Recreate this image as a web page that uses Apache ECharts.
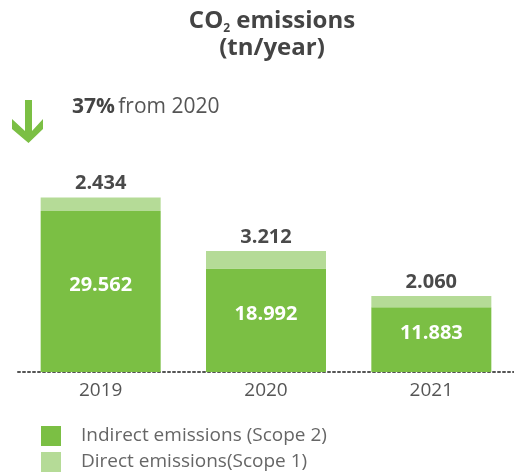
<!DOCTYPE html>
<html><head><meta charset="utf-8">
<script src="https://cdn.jsdelivr.net/npm/echarts@6/dist/echarts.min.js"></script>
<style>html,body{margin:0;padding:0;background:#fff}#c{width:514px;height:472px}</style>
</head><body><div id="c"></div>
<script>
const categories = ['2019', '2020', '2021'];
const indirect = [29562, 18992, 11883];
const direct = [2434, 3212, 2060];
const seriesNames = ['Indirect emissions (Scope 2)', 'Direct emissions(Scope 1)'];

const fmt = v => {
  const s = String(Math.round(v));
  return s.replace(/\B(?=(\d{3})+(?!\d))/g, '.');
};
const FONT = 'Open Sans';
const legendCommon = {
  orient: 'vertical', left: 41, padding: 0,
  itemWidth: 20, itemHeight: 20, icon: 'rect',
  textStyle: {fontSize: 19, lineHeight: 20, color: '#666', fontFamily: FONT, padding: [0, 0, 0, 15]}
};
const chart = echarts.init(document.getElementById('c'), null, {renderer: 'canvas'});
chart.setOption({
  animation: false,
  textStyle: {fontFamily: FONT},
  title: {
    text: '{a|CO}{s|2}{a| emissions}\n{a|(tn/year)}',
    left: 267, top: 3, textAlign: 'center',
    textStyle: {
      rich: {
        a: {fontSize: 24, fontWeight: 'bold', color: '#444', fontFamily: FONT, lineHeight: 27, align: 'center'},
        s: {fontSize: 12, fontWeight: 'bold', color: '#444', fontFamily: FONT, verticalAlign: 'bottom', padding: [12, 0, 0, 0], lineHeight: 27}
      }
    }
  },
  graphic: [
    {type: 'polygon', shape: {points: [[25,100],[32,100],[32,131],[43,119],[43,129],[28.5,143],[12,129],[12,119],[25,131]]}, style: {fill: '#7bbf44'}},
    {type: 'text', left: 72, top: 97, style: {
      text: '{b|37%} {n|from 2020}',
      rich: {
        b: {fontSize: 21, fontWeight: 'bold', fill: '#444', fontFamily: FONT},
        n: {fontSize: 21, fill: '#555', fontFamily: FONT}
      }
    }}
  ],
  legend: [
    Object.assign({top: 426, data: [seriesNames[0]]}, legendCommon),
    Object.assign({top: 452, data: [seriesNames[1]]}, legendCommon)
  ],
  grid: {left: 18, right: -2, top: 154, bottom: 100, containLabel: false},
  xAxis: {
    type: 'category', data: categories,
    axisTick: {show: false},
    axisLine: {lineStyle: {color: '#555', width: 2, type: [2, 3], cap: 'round'}},
    axisLabel: {fontSize: 19, color: '#555', margin: 9, fontFamily: FONT}
  },
  yAxis: {type: 'value', min: 0, max: 40000, show: false, splitLine: {show: false}},
  series: [
    {
      name: seriesNames[0], type: 'bar', stack: 't', data: indirect, barWidth: 120,
      itemStyle: {color: '#7bbf44'},
      label: {show: true, position: 'inside', offset: [0, -6], formatter: p => fmt(p.value),
        color: '#fff', fontSize: 20, fontWeight: 'bold', fontFamily: FONT}
    },
    {
      name: seriesNames[1], type: 'bar', stack: 't', data: direct, barWidth: 120,
      itemStyle: {color: '#b5db97'},
      label: {show: true, position: 'top', distance: 4, formatter: p => fmt(p.value),
        color: '#4a4a4a', fontSize: 20, fontWeight: 'bold', fontFamily: FONT}
    }
  ]
});
</script></body></html>
